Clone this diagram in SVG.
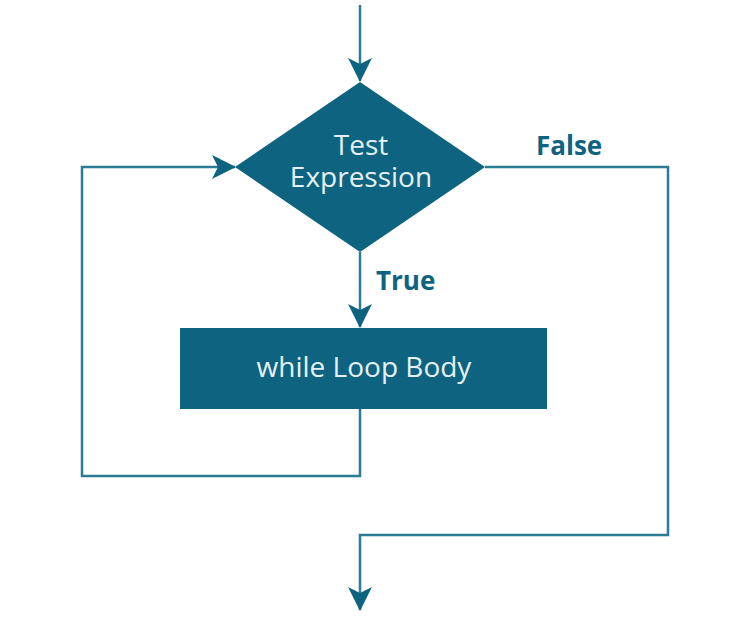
<svg xmlns="http://www.w3.org/2000/svg" width="732" height="630" viewBox="0 0 732 630">
<style>
.ln{fill:none;stroke:#2b7b95;stroke-width:2.5;stroke-linejoin:miter}
.shape{fill:#0d6380}
.nt{font-family:"Open Sans","DejaVu Sans",sans-serif;font-size:28px;fill:#e6f0f3;text-anchor:middle}
.lb{font-family:"Open Sans","DejaVu Sans",sans-serif;font-size:26px;font-weight:bold;fill:#0d6380}
</style>
<defs>
<marker id="ah" viewBox="0 0 24 26" refX="23" refY="13" markerWidth="24" markerHeight="26" markerUnits="userSpaceOnUse" orient="auto">
<path d="M0,1 L24,13 L0,25 L6,13 Z" fill="#0d6380"/>
</marker>
</defs>
<rect width="732" height="630" fill="#ffffff"/>
<g id="connectors">
<path class="ln" d="M360,5 V81" marker-end="url(#ah)"/>
<path class="ln" d="M360,252 V327" marker-end="url(#ah)"/>
<path class="ln" d="M360,409 V476 H82 V167 H235" marker-end="url(#ah)"/>
<path class="ln" d="M485,167 H668 V535 H360 V610" marker-end="url(#ah)"/>
<text class="lb" x="376" y="290">True</text>
<text class="lb" x="536" y="155">False</text>
</g>
<g id="test-expression">
<polygon class="shape" points="360,82 485,167 360,252 235,167"/>
<text class="nt" x="361" y="155">Test</text>
<text class="nt" x="361" y="187">Expression</text>
</g>
<g id="loop-body">
<rect class="shape" x="180" y="328" width="367" height="81"/>
<text class="nt" x="364" y="377">while Loop Body</text>
</g>
</svg>
